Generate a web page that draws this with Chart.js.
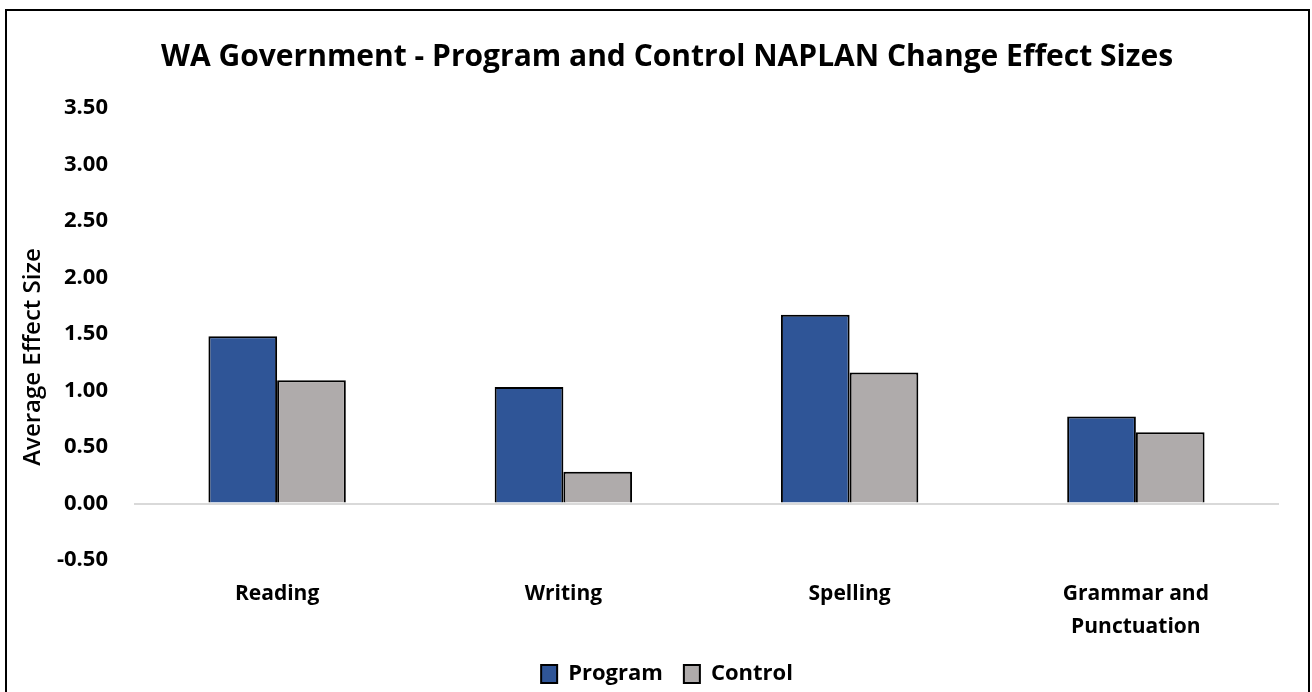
<!DOCTYPE html>
<html>
<head>
<meta charset="utf-8">
<script src="https://cdn.jsdelivr.net/npm/chart.js@4.4.1/dist/chart.umd.min.js"></script>
<style>
  html, body { margin: 0; padding: 0; background: #fff; }
  #wrap { position: relative; width: 1312px; height: 692px; overflow: hidden; }
  #frame {
    position: absolute; left: 5px; top: 9px; width: 1301px; height: 700px;
    border: 2px solid #000; border-bottom: none; pointer-events: none;
  }
  canvas { position: absolute; left: 0; top: 0; }
</style>
</head>
<body>
<div id="wrap">
  <!-- canvas runs a little past the bottom edge, like the cropped original -->
  <canvas id="chart" width="1312" height="695"></canvas>
  <div id="frame"></div>
</div>
<script>
// data
const categories = ['Reading', 'Writing', 'Spelling', ['Grammar and', 'Punctuation']];
const programValues = [1.48, 1.03, 1.67, 0.77];
const controlValues = [1.09, 0.28, 1.16, 0.63];
const yTicks = [-0.5, 0, 0.5, 1, 1.5, 2, 2.5, 3, 3.5];

const FONT = '"Open Sans", Lato, sans-serif';
const LEFT_PAD = 55;

// y axis title drawn by hand so it sits where Excel put it
const yTitlePlugin = {
  id: 'yTitle',
  afterDraw(chart) {
    const ctx = chart.ctx;
    ctx.save();
    ctx.translate(33, 357);
    ctx.rotate(-Math.PI / 2);
    ctx.font = '600 24px ' + FONT;
    ctx.fillStyle = '#000';
    ctx.textAlign = 'center';
    ctx.textBaseline = 'middle';
    ctx.fillText('Average Effect Size', 0, 0);
    ctx.restore();
  }
};

new Chart(document.getElementById('chart'), {
  type: 'bar',
  data: {
    labels: categories,
    datasets: [{
      label: 'Program',
      data: programValues,
      backgroundColor: '#2F5597',
      borderColor: '#000',
      borderWidth: 2,
      categoryPercentage: 0.48,
      barPercentage: 1
    }, {
      label: 'Control',
      data: controlValues,
      backgroundColor: '#AFABAB',
      borderColor: '#000',
      borderWidth: 2,
      categoryPercentage: 0.48,
      barPercentage: 1
    }]
  },
  options: {
    responsive: false,
    animation: false,
    layout: { padding: { left: LEFT_PAD, right: 33, top: 0, bottom: 0 } },
    plugins: {
      title: {
        display: true,
        text: 'WA Government - Program and Control NAPLAN Change Effect Sizes',
        color: '#000',
        font: { family: FONT, size: 30, weight: 'bold' },
        padding: { top: 39, bottom: 33 }
      },
      legend: {
        position: 'bottom',
        labels: {
          color: '#000',
          font: { family: FONT, size: 22, weight: 'bold' },
          boxWidth: 16,
          boxHeight: 18,
          padding: 21
        }
      },
      tooltip: { enabled: false }
    },
    scales: {
      x: {
        grid: { display: false },
        border: { display: false },
        afterFit(axis) { axis.height = 82; },
        ticks: {
          color: '#000',
          padding: 10,
          maxRotation: 0,
          font: { family: FONT, size: 21, weight: 'bold', lineHeight: 1.57 }
        }
      },
      y: {
        min: -0.5,
        max: 3.5,
        afterBuildTicks(axis) {
          axis.ticks = yTicks.map(v => ({ value: v }));
        },
        afterFit(axis) { axis.width = 134 - LEFT_PAD; },
        border: { display: false },
        grid: {
          drawTicks: false,
          lineWidth: 2,
          color: ctx => (ctx.tick && ctx.tick.value === 0) ? '#D9D9D9' : 'rgba(0,0,0,0)'
        },
        ticks: {
          color: '#000',
          padding: 26,
          font: { family: FONT, size: 22, weight: 'bold' },
          callback: v => Number(v).toFixed(2)
        }
      }
    }
  },
  plugins: [yTitlePlugin]
});
</script>
</body>
</html>
